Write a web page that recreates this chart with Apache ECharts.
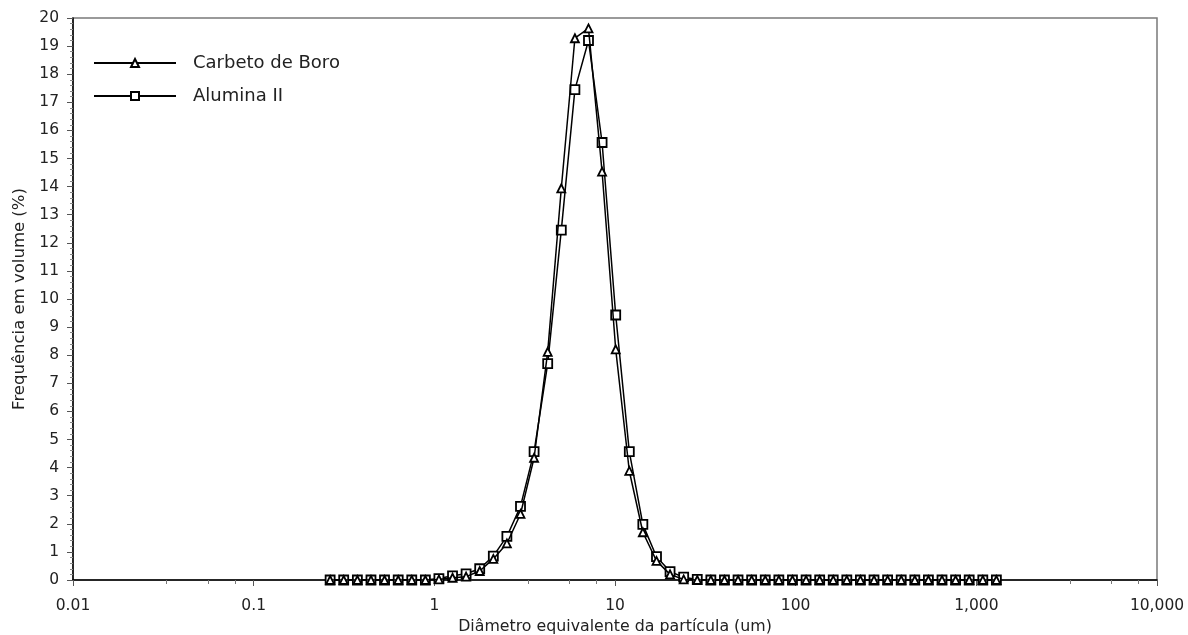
<!DOCTYPE html>
<html>
<head>
<meta charset="utf-8">
<script src="https://cdn.jsdelivr.net/npm/echarts@6/dist/echarts.min.js"></script>
<style>
html,body{margin:0;padding:0;background:#fff;}
#chart{width:1188px;height:635px;}
</style>
</head>
<body>
<div id="chart"></div>
<script>
// Particle diameter (um), geometric midpoints of the size channels
const diameters = [0.265, 0.315, 0.375, 0.446, 0.530, 0.631, 0.750, 0.892, 1.060, 1.261,
  1.499, 1.783, 2.121, 2.521, 2.999, 3.566, 4.241, 5.044, 5.998, 7.133,
  8.482, 10.09, 12.00, 14.26, 16.97, 20.17, 23.99, 28.53, 33.93, 40.35,
  47.98, 57.07, 67.86, 80.70, 95.99, 114.2, 135.8, 161.4, 191.9, 228.2,
  271.4, 322.8, 383.9, 456.5, 542.9, 645.6, 767.7, 913.0, 1086, 1291];

// Frequency in volume (%)
const carbetoDeBoro = [0, 0, 0, 0, 0, 0, 0, 0, 0.02, 0.08,
  0.12, 0.32, 0.75, 1.30, 2.35, 4.35, 8.12, 13.94, 19.28, 19.63,
  14.53, 8.21, 3.88, 1.70, 0.68, 0.20, 0.02, 0, 0, 0,
  0, 0, 0, 0, 0, 0, 0, 0, 0, 0,
  0, 0, 0, 0, 0, 0, 0, 0, 0, 0];

const aluminaII = [0, 0, 0, 0, 0, 0, 0, 0, 0.05, 0.15,
  0.22, 0.40, 0.85, 1.55, 2.62, 4.57, 7.70, 12.45, 17.45, 19.20,
  15.57, 9.43, 4.57, 1.98, 0.83, 0.30, 0.10, 0.02, 0, 0,
  0, 0, 0, 0, 0, 0, 0, 0, 0, 0,
  0, 0, 0, 0, 0, 0, 0, 0, 0, 0];

const seriesNames = ['Carbeto de Boro', 'Alumina II'];
const xMinorTicks = [0.033, 0.056, 0.079, 0.33, 0.56, 0.79, 3.3, 5.6, 7.9,
  33, 56, 79, 330, 560, 790, 3300, 5600, 7900];

const font = 'DejaVu Sans';
const textColor = '#222';

function pairs(xs, ys) { return xs.map((x, i) => [x, ys[i]]); }
function fmtX(v) {
  const n = Number(Number(v).toPrecision(6));
  return n >= 1000 ? n.toLocaleString('en-US') : String(n);
}

const chart = echarts.init(document.getElementById('chart'), null, {renderer: 'canvas'});
const lineStyle = {color: '#000', width: 1.5};
const itemStyle = {color: '#fff', borderColor: '#000', borderWidth: 1.8};

chart.setOption({
  animation: false,
  backgroundColor: '#fff',
  textStyle: {fontFamily: font},
  grid: {
    left: 73, right: 31, top: 18, bottom: 55,
    outerBoundsMode: 'none', containLabel: false,
    show: true, borderColor: '#7a7a7a', borderWidth: 1.5, backgroundColor: 'transparent'
  },
  legend: {
    data: seriesNames,
    orient: 'vertical',
    left: 88, top: 49,
    itemWidth: 82, itemHeight: 10, itemGap: 15,
    textStyle: {fontFamily: font, fontSize: 18, color: textColor, padding: [0, 0, 0, 12]}
  },
  xAxis: [{
    type: 'log', logBase: 10, min: 0.01, max: 10000,
    name: 'Diâmetro equivalente da partícula (um)',
    nameLocation: 'middle', nameGap: 38,
    nameTextStyle: {fontFamily: font, fontSize: 15.8, color: textColor},
    axisLine: {lineStyle: {color: '#000', width: 1.5}},
    axisTick: {inside: false, length: 6, lineStyle: {color: '#555'}},
    axisLabel: {fontFamily: font, fontSize: 15.5, color: textColor, margin: 18, formatter: fmtX},
    splitLine: {show: false}
  }, {
    type: 'log', logBase: 10, min: 0.01, max: 10000, position: 'bottom',
    axisLine: {show: false},
    axisTick: {show: true, length: 4, customValues: xMinorTicks, lineStyle: {color: '#777'}},
    axisLabel: {show: false},
    splitLine: {show: false}
  }],
  yAxis: {
    type: 'value', min: 0, max: 20, interval: 1,
    name: 'Frequência em volume (%)',
    nameLocation: 'middle', nameGap: 45, nameRotate: 90,
    nameTextStyle: {fontFamily: font, fontSize: 16.5, color: textColor},
    axisLine: {show: true, lineStyle: {color: '#000', width: 1.5}},
    axisTick: {show: true, length: 6, lineStyle: {color: '#555'}},
    minorTick: {show: true, splitNumber: 5, length: 3, lineStyle: {color: '#888'}},
    axisLabel: {fontFamily: font, fontSize: 15.5, color: textColor, margin: 14},
    splitLine: {show: false},
    minorSplitLine: {show: false}
  },
  series: [{
    name: 'Alumina II', type: 'line', xAxisIndex: 0,
    data: pairs(diameters, aluminaII),
    symbol: 'rect', symbolSize: 9, showAllSymbol: true,
    lineStyle: lineStyle, itemStyle: itemStyle, z: 2
  }, {
    name: 'Carbeto de Boro', type: 'line', xAxisIndex: 0,
    data: pairs(diameters, carbetoDeBoro),
    symbol: 'triangle', symbolSize: 8, showAllSymbol: true,
    lineStyle: lineStyle, itemStyle: itemStyle, z: 3
  }]
});
</script>
</body>
</html>
